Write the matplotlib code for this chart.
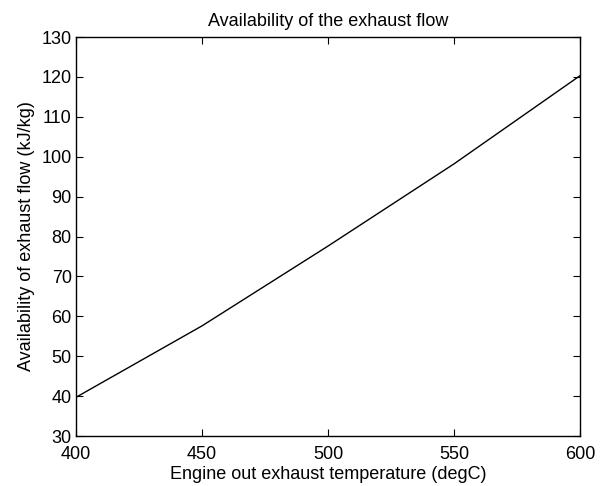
import matplotlib
matplotlib.use("Agg")
import matplotlib.pyplot as plt

temperature = [400, 450, 500, 550, 600]
availability = [39.7, 57.6, 77.6, 98.2, 120.3]

x_ticks = [400, 450, 500, 550, 600]
y_ticks = [30, 40, 50, 60, 70, 80, 90, 100, 110, 120, 130]

plt.rcParams['font.family'] = ['Liberation Sans', 'DejaVu Sans']

fig = plt.figure(figsize=(6.05, 4.86), dpi=100)
ax = fig.add_axes([76/605, 50/486, 504/605, 399/486])
ax.plot(temperature, availability, color='black', linewidth=1.0)
ax.set_xlim(400, 600)
ax.set_ylim(30, 130)
ax.set_xticks(x_ticks)
ax.set_yticks(y_ticks)
ax.tick_params(direction='in', top=True, right=True, length=5, width=0.8,
               labelsize=13)
ax.tick_params(axis='x', pad=7)
ax.tick_params(axis='y', pad=3)
for s in ax.spines.values():
    s.set_linewidth(1.0)
ax.set_title('Availability of the exhaust flow', fontsize=13, pad=8)
ax.set_xlabel('Engine out exhaust temperature (degC)', fontsize=13, labelpad=2)
ax.set_ylabel('Availability of exhaust flow (kJ/kg)', fontsize=13, labelpad=5)
fig.savefig('out.png', dpi=100)
